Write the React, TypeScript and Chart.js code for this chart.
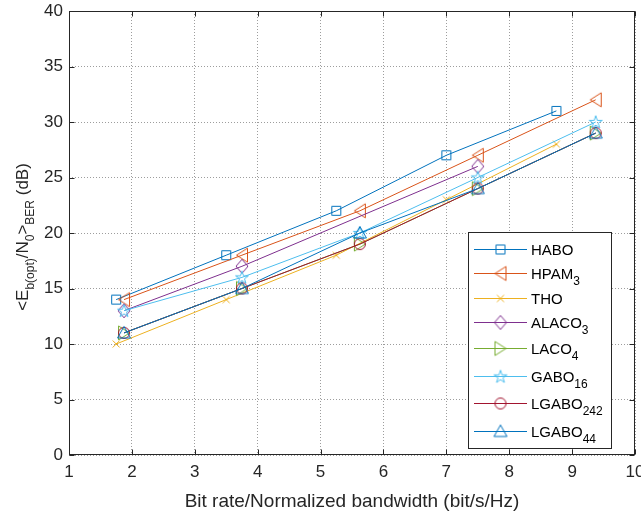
import React, { useEffect, useRef } from 'react';
import { Chart, registerables } from 'chart.js';

Chart.register(...registerables);

// ---- data ----
const xHabo = [1.75, 3.5, 5.25, 7, 8.75];
const xMain = [1.875, 3.75, 5.625, 7.5, 9.375];
const xAlaco = [1.875, 3.75, 7.5];

const haboValues = [14, 18, 22, 27, 31];
const hpam3Values = [14, 18, 22, 27, 32];
const thoValues = [10, 14, 18, 23, 28];
const alaco3Values = [13, 17, 26];
const laco4Values = [11, 15, 19, 24, 29];
const gabo16Values = [13, 16, 20, 25, 30];
const lgabo242Values = [11, 15, 19, 24, 29];
const lgabo44Values = [11, 15, 20, 24, 29];

const seriesNames: [string, string][] = [
  ['HABO', ''],
  ['HPAM', '3'],
  ['THO', ''],
  ['ALACO', '3'],
  ['LACO', '4'],
  ['GABO', '16'],
  ['LGABO', '242'],
  ['LGABO', '44'],
];
const seriesX = [xHabo, xMain, xHabo, xAlaco, xMain, xMain, xMain, xMain];
const seriesY = [haboValues, hpam3Values, thoValues, alaco3Values, laco4Values, gabo16Values, lgabo242Values, lgabo44Values];
const seriesColors = ['#0072BD', '#D95319', '#EDB120', '#7E2F8E', '#77AC30', '#4DBEEE', '#A2142F', '#0072BD'];
const seriesMarkers = ['square', 'triLeft', 'x', 'diamond', 'triRight', 'star', 'circle', 'triUp'];

const xTicks = [1, 2, 3, 4, 5, 6, 7, 8, 9, 10];
const yTicks = [0, 5, 10, 15, 20, 25, 30, 35, 40];

const xTitle = 'Bit rate/Normalized bandwidth (bit/s/Hz)';
const yTitleParts: [string, boolean][] = [
  ['<E', false], ['b(opt)', true], ['/N', false], ['0', true], ['>', false], ['BER', true], [' (dB)', false],
];

const FONT = '"Liberation Sans", Arial, Helvetica, sans-serif';
const TEXT = '#262626';

function makeMarker(kind: string, color: string): HTMLCanvasElement {
  const s = 20;
  const c = document.createElement('canvas');
  c.width = s;
  c.height = s;
  const g = c.getContext('2d')!;
  g.strokeStyle = color;
  g.lineWidth = 1;
  g.beginPath();
  const m = 10;
  switch (kind) {
    case 'square':
      g.rect(m - 4.5, m - 4.5, 9, 9);
      break;
    case 'triLeft':
      g.moveTo(m - 5.5, m); g.lineTo(m + 5.5, m - 7); g.lineTo(m + 5.5, m + 7); g.closePath();
      break;
    case 'triRight':
      g.moveTo(m + 5.5, m); g.lineTo(m - 5.5, m - 7); g.lineTo(m - 5.5, m + 7); g.closePath();
      break;
    case 'triUp':
      g.moveTo(m, m - 6.5); g.lineTo(m + 6.5, m + 5); g.lineTo(m - 6.5, m + 5); g.closePath();
      break;
    case 'x':
      g.moveTo(m - 3.5, m - 3.5); g.lineTo(m + 3.5, m + 3.5);
      g.moveTo(m + 3.5, m - 3.5); g.lineTo(m - 3.5, m + 3.5);
      break;
    case 'diamond':
      g.moveTo(m, m - 7); g.lineTo(m + 6, m); g.lineTo(m, m + 7); g.lineTo(m - 6, m); g.closePath();
      break;
    case 'circle':
      g.arc(m, m, 5.5, 0, Math.PI * 2);
      break;
    case 'star': {
      const R = 6.8, r = R * 0.382;
      for (let i = 0; i < 10; i++) {
        const a = -Math.PI / 2 + (i * Math.PI) / 5;
        const rr = i % 2 === 0 ? R : r;
        const px = m + rr * Math.cos(a), py = m + 0.5 + rr * Math.sin(a);
        if (i === 0) g.moveTo(px, py); else g.lineTo(px, py);
      }
      g.closePath();
      break;
    }
  }
  g.stroke();
  return c;
}

function drawRich(ctx: CanvasRenderingContext2D, x: number, y: number, parts: [string, boolean][], mainSize: number, subSize: number, subDrop: number, align: 'left' | 'center') {
  const mf = `${mainSize}px ${FONT}`;
  const sf = `${subSize}px ${FONT}`;
  let total = 0;
  for (const [t, sub] of parts) {
    ctx.font = sub ? sf : mf;
    total += ctx.measureText(t).width;
  }
  let cx = align === 'center' ? x - total / 2 : x;
  ctx.textAlign = 'left';
  ctx.textBaseline = 'alphabetic';
  for (const [t, sub] of parts) {
    ctx.font = sub ? sf : mf;
    ctx.fillText(t, cx, sub ? y + subDrop : y);
    cx += ctx.measureText(t).width;
  }
}

export default function App() {
  const ref = useRef<HTMLCanvasElement | null>(null);

  useEffect(() => {
    if (!ref.current) return;
    const markers = seriesMarkers.map((k, i) => makeMarker(k, seriesColors[i]));

    const datasets = seriesNames.map((n, i) => ({
      label: n[0] + n[1],
      data: seriesX[i].map((xv, j) => ({ x: xv, y: seriesY[i][j] })),
      borderColor: seriesColors[i],
      backgroundColor: seriesColors[i],
      borderWidth: 1,
      pointStyle: markers[i],
      pointRadius: 5,
      pointHoverRadius: 5,
      tension: 0,
      fill: false,
      order: -i,
    }));

    const overlay = {
      id: 'overlay',
      afterDraw(chart: any) {
        const ctx: CanvasRenderingContext2D = chart.ctx;
        const { left, right, top, bottom } = chart.chartArea;
        const xs = chart.scales.x;
        const ys = chart.scales.y;
        ctx.save();
        // frame
        ctx.strokeStyle = TEXT;
        ctx.lineWidth = 1;
        const L = Math.round(left) + 0.5, R = Math.round(right) - 0.5, T = Math.round(top) + 0.5, B = Math.round(bottom) - 0.5;
        ctx.strokeRect(L, T, R - L, B - T);
        // inward ticks
        ctx.beginPath();
        for (const v of xTicks) {
          const px = Math.round(xs.getPixelForValue(v)) + 0.5;
          ctx.moveTo(px, B); ctx.lineTo(px, B - 5);
          ctx.moveTo(px, T); ctx.lineTo(px, T + 5);
        }
        for (const v of yTicks) {
          const py = Math.round(ys.getPixelForValue(v)) + 0.5;
          ctx.moveTo(L, py); ctx.lineTo(L + 5, py);
          ctx.moveTo(R, py); ctx.lineTo(R - 5, py);
        }
        ctx.stroke();

        // legend
        const bx = 468.5, by = 232.5, bw = 143, bh = 216;
        ctx.fillStyle = '#ffffff';
        ctx.fillRect(bx, by, bw, bh);
        ctx.strokeStyle = TEXT;
        ctx.strokeRect(bx, by, bw, bh);
        const rowY = [249, 273, 298, 322, 348, 376, 403, 431];
        seriesNames.forEach((n, i) => {
          const yy = rowY[i];
          ctx.strokeStyle = seriesColors[i];
          ctx.lineWidth = 1;
          ctx.beginPath();
          ctx.moveTo(474, yy + 0.5);
          ctx.lineTo(527, yy + 0.5);
          ctx.stroke();
          const mk = markers[i];
          ctx.drawImage(mk, 500.5 - mk.width / 2, yy + 0.5 - mk.height / 2);
          ctx.fillStyle = '#000000';
          const parts: [string, boolean][] = [[n[0], false]];
          if (n[1]) parts.push([n[1], true]);
          drawRich(ctx, 531, yy + 5.5, parts, 15, 12, 6, 'left');
        });

        // axis titles
        ctx.fillStyle = TEXT;
        ctx.font = `19px ${FONT}`;
        ctx.textAlign = 'center';
        ctx.textBaseline = 'alphabetic';
        ctx.fillText(xTitle, (left + right) / 2, 507);

        ctx.save();
        ctx.translate(28, 237);
        ctx.rotate(-Math.PI / 2);
        drawRich(ctx, 0, 0, yTitleParts, 17, 12, 6, 'center');
        ctx.restore();

        ctx.restore();
      },
    };

    const chart = new Chart(ref.current, {
      type: 'line',
      data: { datasets: datasets as any },
      options: {
        animation: false,
        responsive: true,
        maintainAspectRatio: false,
        events: [],
        layout: { padding: { top: 11, right: 6, left: 0, bottom: 0 } },
        plugins: { legend: { display: false }, tooltip: { enabled: false } },
        scales: {
          x: {
            type: 'linear',
            min: 1,
            max: 10,
            afterBuildTicks: (s: any) => { s.ticks = xTicks.map((v) => ({ value: v })); },
            afterFit: (s: any) => { s.height = 57; s.paddingRight = 0; s.paddingLeft = 0; },
            ticks: { color: TEXT, font: { family: FONT, size: 17 }, padding: 7, maxRotation: 0, autoSkip: false },
            grid: { color: 'rgba(38,38,38,0.45)', lineWidth: 1, drawTicks: false },
            border: { display: false, dash: [1, 2] },
          },
          y: {
            type: 'linear',
            min: 0,
            max: 40,
            afterBuildTicks: (s: any) => { s.ticks = yTicks.map((v) => ({ value: v })); },
            afterFit: (s: any) => { s.width = 69; s.paddingTop = 0; s.paddingBottom = 0; },
            ticks: { color: TEXT, font: { family: FONT, size: 17 }, padding: 6, autoSkip: false },
            grid: { color: 'rgba(38,38,38,0.45)', lineWidth: 1, drawTicks: false },
            border: { display: false, dash: [1, 2] },
          },
        },
      },
      plugins: [overlay],
    });
    return () => chart.destroy();
  }, []);

  return (
    <div style={{ position: 'absolute', left: 0, top: 0, width: 641, height: 512, background: '#fff' }}>
      <canvas ref={ref} />
    </div>
  );
}
